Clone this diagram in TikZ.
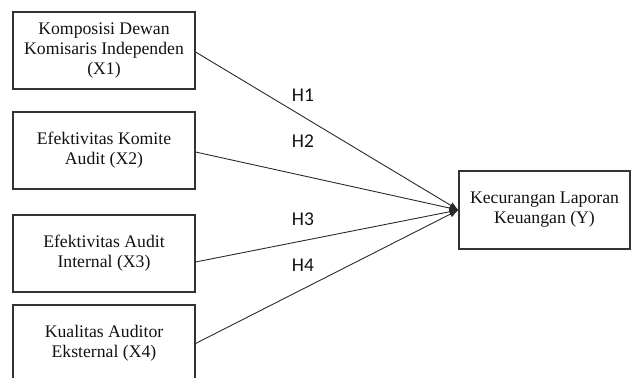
\documentclass[tikz,border=0pt]{standalone}
\usepackage{fontspec}
\setmainfont{Liberation Serif}
\newfontfamily\hfont{Carlito}
\usepackage{tikz}
\usetikzlibrary{positioning,arrows.meta}
\definecolor{tinta}{HTML}{111111}
\definecolor{borde}{HTML}{333333}
\definecolor{linea}{HTML}{2B2B2B}

\begin{document}
\begin{tikzpicture}[
  x=1pt, y=-1pt,
  font=\fontsize{17.7}{20.2}\selectfont,
  caja/.style={draw=borde, line width=1.1pt, minimum width=182pt, minimum height=77pt,
    inner sep=0pt, align=center, text=tinta},
  flecha/.style={-{Latex[length=9pt,width=7pt]}, linea, line width=0.9pt},
  etiqueta/.style={font=\hfont\fontsize{19.5}{21}\selectfont, text=tinta, inner sep=0pt}]
  \useasboundingbox (0,0) rectangle (631,377);
  \node[caja] (x1) at (104,50.5) {Komposisi Dewan\\Komisaris Independen\\(X1)};
  \node[caja] (x2) at (104,150.5) {Efektivitas Komite\\Audit (X2)};
  \node[caja] (x3) at (104,253.5) {Efektivitas Audit\\Internal (X3)};
  \node[caja] (x4) at (104,343.5) {Kualitas Auditor\\Eksternal (X4)};
  \node[caja, minimum width=171pt, minimum height=78pt] (y) at (544.5,210) {Kecurangan Laporan\\Keuangan (Y)};
  \draw[flecha] ([yshift=-1.5pt]x1.east) -- (y.west);
  \draw[flecha] ([yshift=-1.5pt]x2.east) -- (y.west);
  \draw[flecha] ([yshift=-8.5pt]x3.east) -- (y.west);
  \draw[flecha] (x4.east) -- (y.west);
  \node[etiqueta] (h1) at (303,95.5) {H1};
  \node[etiqueta] (h2) at (303,141.5) {H2};
  \node[etiqueta] (h3) at (303,219) {H3};
  \node[etiqueta] (h4) at (303,265) {H4};
\end{tikzpicture}
\end{document}
